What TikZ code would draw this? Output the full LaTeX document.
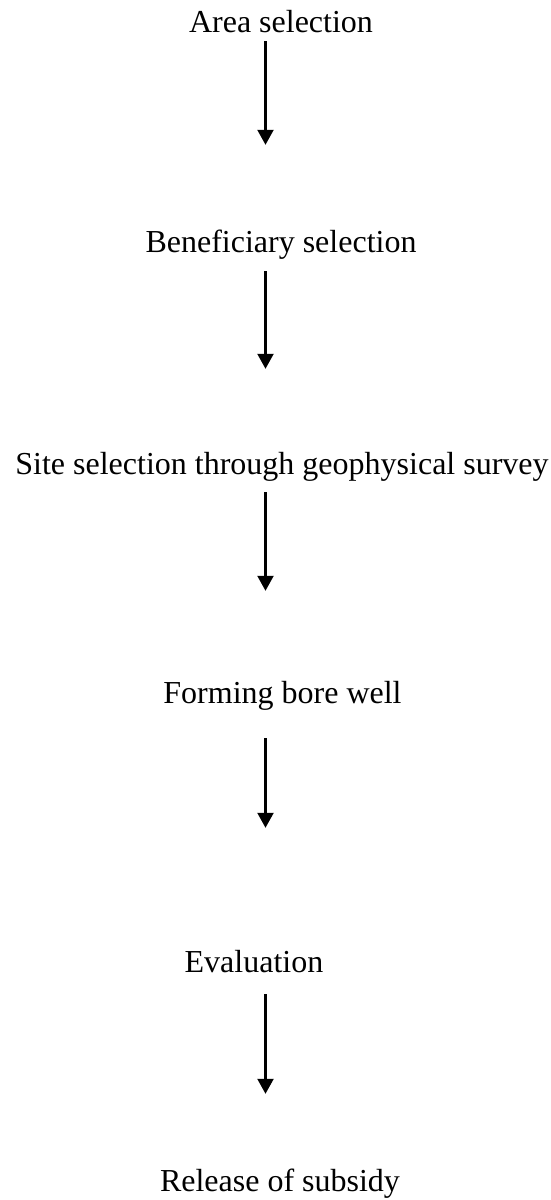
\documentclass[tikz,border=0pt]{standalone}
\usepackage{fontspec}
\setmainfont{Liberation Serif}
\usetikzlibrary{arrows.meta}
\begin{document}
\begin{tikzpicture}[x=1pt,y=1pt,
  stage/.style={anchor=base,inner sep=0pt,text height=21pt,text depth=0pt,
    font=\fontsize{32}{38}\selectfont},
  flowarrow/.style={line width=2.2pt,-{Triangle[length=15pt,width=16pt]}}]
\useasboundingbox (0,0) rectangle (551,-1200);
\coordinate (ax) at (265.5,0);
\node[stage] (a) at (281,-32) {Area selection};
\node[stage] (b) at (281,-252) {Beneficiary selection};
\node[stage] (c) at (282,-474) {Site selection through geophysical survey};
\node[stage] (d) at (282.5,-703) {Forming bore well};
\node[stage] (e) at (254,-972) {Evaluation};
\node[stage] (f) at (280,-1191) {Release of subsidy};
\draw[flowarrow] ([yshift=-9pt]a.south -| ax) -- ([yshift=86pt]b.north -| ax);
\draw[flowarrow] ([yshift=-19pt]b.south -| ax) -- ([yshift=84pt]c.north -| ax);
\draw[flowarrow] ([yshift=-18pt]c.south -| ax) -- ([yshift=91pt]d.north -| ax);
\draw[flowarrow] ([yshift=-35pt]d.south -| ax) -- ([yshift=123pt]e.north -| ax);
\draw[flowarrow] ([yshift=-22pt]e.south -| ax) -- ([yshift=76pt]f.north -| ax);
\end{tikzpicture}
\end{document}
